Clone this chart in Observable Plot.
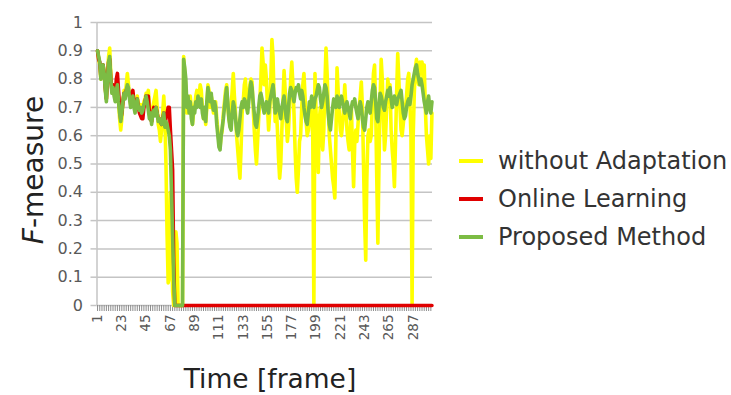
<!DOCTYPE html>
<html>
<head>
<meta charset="utf-8">
<script src="https://cdn.jsdelivr.net/npm/d3@7"></script>
<script src="https://cdn.jsdelivr.net/npm/@observablehq/plot@0.6"></script>
<style>
  html, body { margin: 0; padding: 0; background: #fff; }
  #chart { position: relative; width: 731px; height: 395px; overflow: hidden; font-family: "DejaVu Sans", sans-serif; }
  #chart svg { position: absolute; left: 0; top: 0; }
  .ytitle { position: absolute; left: 33px; top: 170px; transform: translate(-50%, -50%) rotate(-90deg); font-size: 28px; color: #222; white-space: nowrap; }
  .xtitle { position: absolute; left: 270px; top: 378px; transform: translate(-50%, -50%); font-size: 26.5px; color: #222; white-space: nowrap; }
  .legend { position: absolute; left: 459px; top: 142px; }
  .legend .row { display: flex; align-items: center; height: 38px; font-size: 24px; color: #333; white-space: nowrap; }
  .legend .swatch { width: 24px; height: 3.5px; margin-right: 15px; }
</style>
</head>
<body>
<div id="chart"></div>
<script>
// F-measure per frame for each method
const withoutAdaptation = [
  0.90, 0.87, 0.85, 0.80, 0.83, 0.85, 0.82, 0.77, 0.73, 0.82,
  0.88, 0.91, 0.82, 0.76, 0.78, 0.75, 0.73, 0.77, 0.79, 0.72,
  0.66, 0.62, 0.66, 0.72, 0.76, 0.74, 0.78, 0.82, 0.78, 0.74,
  0.71, 0.73, 0.75, 0.71, 0.69, 0.72, 0.74, 0.71, 0.70, 0.71,
  0.69, 0.70, 0.72, 0.73, 0.75, 0.74, 0.76, 0.70, 0.69, 0.65,
  0.70, 0.72, 0.74, 0.76, 0.70, 0.64, 0.62, 0.58, 0.62, 0.68,
  0.74, 0.66, 0.50, 0.25, 0.08, 0.10, 0.40, 0.30, 0.05, 0.00,
  0.00, 0.26, 0.22, 0.00, 0.00, 0.00, 0.00, 0.00, 0.88, 0.82,
  0.76, 0.68, 0.72, 0.70, 0.74, 0.70, 0.64, 0.68, 0.70, 0.74,
  0.76, 0.72, 0.74, 0.78, 0.76, 0.70, 0.66, 0.68, 0.64, 0.70,
  0.78, 0.76, 0.70, 0.74, 0.72, 0.68, 0.70, 0.72, 0.66, 0.62,
  0.58, 0.56, 0.60, 0.62, 0.68, 0.72, 0.76, 0.78, 0.70, 0.66,
  0.64, 0.70, 0.76, 0.82, 0.74, 0.68, 0.60, 0.55, 0.50, 0.45,
  0.55, 0.68, 0.72, 0.78, 0.80, 0.72, 0.70, 0.74, 0.78, 0.80,
  0.79, 0.70, 0.62, 0.55, 0.50, 0.58, 0.66, 0.72, 0.80, 0.91,
  0.86, 0.78, 0.85, 0.80, 0.70, 0.62, 0.68, 0.80, 0.94, 0.88,
  0.72, 0.65, 0.70, 0.62, 0.52, 0.45, 0.50, 0.62, 0.72, 0.83,
  0.76, 0.65, 0.58, 0.62, 0.70, 0.80, 0.86, 0.78, 0.68, 0.55,
  0.45, 0.40, 0.48, 0.58, 0.60, 0.70, 0.78, 0.82, 0.74, 0.65,
  0.60, 0.62, 0.70, 0.72, 0.66, 0.60, 0.00, 0.82, 0.68, 0.62,
  0.47, 0.66, 0.70, 0.60, 0.55, 0.62, 0.78, 0.91, 0.82, 0.70,
  0.60, 0.55, 0.50, 0.45, 0.42, 0.38, 0.60, 0.84, 0.76, 0.68,
  0.62, 0.60, 0.64, 0.70, 0.78, 0.70, 0.62, 0.58, 0.55, 0.62,
  0.70, 0.55, 0.42, 0.57, 0.62, 0.58, 0.64, 0.70, 0.74, 0.79,
  0.70, 0.50, 0.30, 0.16, 0.45, 0.60, 0.62, 0.58, 0.60, 0.72,
  0.82, 0.85, 0.70, 0.45, 0.22, 0.50, 0.72, 0.87, 0.80, 0.66,
  0.55, 0.60, 0.70, 0.80, 0.76, 0.78, 0.62, 0.55, 0.50, 0.42,
  0.58, 0.75, 0.89, 0.80, 0.70, 0.62, 0.60, 0.64, 0.68, 0.70,
  0.74, 0.80, 0.82, 0.72, 0.60, 0.00, 0.60, 0.75, 0.84, 0.87,
  0.80, 0.78, 0.86, 0.84, 0.86, 0.80, 0.85, 0.70, 0.60, 0.55,
  0.50, 0.60, 0.52, 0.68
];

const onlineLearning = [
  0.90, 0.87, 0.86, 0.81, 0.84, 0.85, 0.82, 0.77, 0.73, 0.80,
  0.86, 0.87, 0.80, 0.76, 0.78, 0.76, 0.74, 0.80, 0.82, 0.76,
  0.70, 0.66, 0.68, 0.72, 0.75, 0.74, 0.76, 0.77, 0.76, 0.74,
  0.72, 0.74, 0.76, 0.72, 0.69, 0.71, 0.73, 0.70, 0.68, 0.67,
  0.66, 0.66, 0.70, 0.72, 0.74, 0.73, 0.74, 0.68, 0.66, 0.65,
  0.68, 0.70, 0.68, 0.70, 0.68, 0.66, 0.66, 0.65, 0.64, 0.66,
  0.68, 0.64, 0.66, 0.68, 0.70, 0.70, 0.62, 0.55, 0.48, 0.15,
  0, 0, 0, 0, 0, 0, 0, 0, 0, 0,
  0, 0, 0, 0, 0, 0, 0, 0, 0, 0,
  0, 0, 0, 0, 0, 0, 0, 0, 0, 0,
  0, 0, 0, 0, 0, 0, 0, 0, 0, 0,
  0, 0, 0, 0, 0, 0, 0, 0, 0, 0,
  0, 0, 0, 0, 0, 0, 0, 0, 0, 0,
  0, 0, 0, 0, 0, 0, 0, 0, 0, 0,
  0, 0, 0, 0, 0, 0, 0, 0, 0, 0,
  0, 0, 0, 0, 0, 0, 0, 0, 0, 0,
  0, 0, 0, 0, 0, 0, 0, 0, 0, 0,
  0, 0, 0, 0, 0, 0, 0, 0, 0, 0,
  0, 0, 0, 0, 0, 0, 0, 0, 0, 0,
  0, 0, 0, 0, 0, 0, 0, 0, 0, 0,
  0, 0, 0, 0, 0, 0, 0, 0, 0, 0,
  0, 0, 0, 0, 0, 0, 0, 0, 0, 0,
  0, 0, 0, 0, 0, 0, 0, 0, 0, 0,
  0, 0, 0, 0, 0, 0, 0, 0, 0, 0,
  0, 0, 0, 0, 0, 0, 0, 0, 0, 0,
  0, 0, 0, 0, 0, 0, 0, 0, 0, 0,
  0, 0, 0, 0, 0, 0, 0, 0, 0, 0,
  0, 0, 0, 0, 0, 0, 0, 0, 0, 0,
  0, 0, 0, 0, 0, 0, 0, 0, 0, 0,
  0, 0, 0, 0, 0, 0, 0, 0, 0, 0,
  0, 0, 0, 0
];

const proposedMethod = [
  0.90, 0.88, 0.86, 0.80, 0.84, 0.85, 0.82, 0.76, 0.72, 0.80,
  0.86, 0.88, 0.80, 0.75, 0.77, 0.74, 0.72, 0.76, 0.78, 0.72,
  0.68, 0.65, 0.68, 0.72, 0.75, 0.73, 0.76, 0.78, 0.77, 0.73,
  0.70, 0.72, 0.74, 0.70, 0.68, 0.71, 0.73, 0.70, 0.69, 0.70,
  0.68, 0.69, 0.71, 0.72, 0.74, 0.72, 0.69, 0.66, 0.68, 0.64,
  0.68, 0.69, 0.67, 0.70, 0.68, 0.65, 0.66, 0.65, 0.64, 0.66,
  0.68, 0.63, 0.65, 0.64, 0.62, 0.60, 0.55, 0.40, 0.25, 0.10,
  0.00, 0.00, 0.00, 0.00, 0.00, 0.00, 0.00, 0.00, 0.87, 0.84,
  0.80, 0.70, 0.74, 0.68, 0.72, 0.66, 0.64, 0.70, 0.68, 0.72,
  0.70, 0.74, 0.71, 0.70, 0.73, 0.68, 0.66, 0.70, 0.65, 0.72,
  0.77, 0.74, 0.72, 0.75, 0.71, 0.69, 0.72, 0.70, 0.64, 0.60,
  0.56, 0.55, 0.60, 0.63, 0.66, 0.70, 0.74, 0.77, 0.72, 0.66,
  0.63, 0.62, 0.68, 0.72, 0.70, 0.66, 0.62, 0.60, 0.62, 0.66,
  0.70, 0.72, 0.70, 0.73, 0.72, 0.70, 0.68, 0.72, 0.76, 0.79,
  0.77, 0.72, 0.68, 0.64, 0.63, 0.66, 0.70, 0.74, 0.75, 0.73,
  0.70, 0.68, 0.70, 0.72, 0.70, 0.68, 0.72, 0.74, 0.76, 0.78,
  0.74, 0.68, 0.70, 0.73, 0.70, 0.68, 0.66, 0.70, 0.72, 0.74,
  0.70, 0.66, 0.65, 0.70, 0.75, 0.77, 0.76, 0.74, 0.72, 0.75,
  0.77, 0.76, 0.78, 0.75, 0.73, 0.76, 0.74, 0.70, 0.67, 0.65,
  0.64, 0.68, 0.72, 0.70, 0.74, 0.72, 0.70, 0.73, 0.74, 0.76,
  0.78, 0.77, 0.73, 0.70, 0.72, 0.75, 0.78, 0.77, 0.74, 0.68,
  0.64, 0.62, 0.66, 0.70, 0.73, 0.71, 0.70, 0.74, 0.72, 0.70,
  0.73, 0.74, 0.72, 0.70, 0.68, 0.70, 0.72, 0.70, 0.68, 0.66,
  0.70, 0.72, 0.71, 0.73, 0.70, 0.68, 0.66, 0.70, 0.72, 0.70,
  0.66, 0.63, 0.62, 0.66, 0.70, 0.72, 0.70, 0.68, 0.72, 0.76,
  0.78, 0.77, 0.72, 0.66, 0.65, 0.70, 0.75, 0.74, 0.72, 0.70,
  0.69, 0.72, 0.74, 0.76, 0.74, 0.77, 0.73, 0.70, 0.72, 0.74,
  0.72, 0.71, 0.73, 0.74, 0.75, 0.76, 0.72, 0.68, 0.66, 0.67,
  0.70, 0.72, 0.73, 0.71, 0.74, 0.78, 0.80, 0.82, 0.84, 0.85,
  0.82, 0.80, 0.78, 0.80, 0.78, 0.75, 0.72, 0.70, 0.68, 0.72,
  0.74, 0.70, 0.68, 0.72
];

// Axis ticks
const xTickLabels = [1, 23, 45, 67, 89, 111, 133, 155, 177, 199, 221, 243, 265, 287];
const yTicks = [0, 0.1, 0.2, 0.3, 0.4, 0.5, 0.6, 0.7, 0.8, 0.9, 1];

const series = [
  {name: "without Adaptation", values: withoutAdaptation, color: "#ffff00"},
  {name: "Online Learning", values: onlineLearning, color: "#e00000"},
  {name: "Proposed Method", values: proposedMethod, color: "#7cbc44"}
];

const frames = d3.range(1, proposedMethod.length + 1);
const minorTicks = frames.filter(f => f % 2 === 1);
const gridColor = "#c4c4c4";

const plot = Plot.plot({
  width: 460,
  height: 395,
  marginLeft: 96.5,
  marginRight: 28,
  marginTop: 22,
  marginBottom: 90,
  style: {fontFamily: "DejaVu Sans", background: "transparent"},
  x: {type: "linear", domain: [0.5, frames.length + 0.5]},
  y: {domain: [0, 1]},
  marks: [
    Plot.gridY(yTicks, {stroke: gridColor, strokeOpacity: 1, strokeWidth: 1.5}),
    Plot.ruleX([0.5], {stroke: gridColor, strokeWidth: 1.5}),
    // small tick marks along the frame axis
    Plot.axisX({ticks: minorTicks, tickSize: 6, tickFormat: () => "", stroke: "#8c8c8c", label: null}),
    Plot.axisX({
      ticks: xTickLabels, tickSize: 0, tickRotate: -90, textAnchor: "end", lineAnchor: "middle",
      tickPadding: 9, fontSize: 13.5, fill: "#595959", label: null
    }),
    Plot.axisY({
      ticks: yTicks, tickSize: 6, tickPadding: 8, fontSize: 16, fill: "#595959",
      stroke: gridColor, strokeWidth: 1.5, label: null, tickFormat: d => String(d)
    }),
    ...series.map(s => Plot.line(s.values, {
      x: (d, i) => frames[i],
      y: d => d,
      stroke: s.color,
      strokeWidth: 3.6,
      strokeLinejoin: "round"
    }))
  ]
});

const root = document.getElementById("chart");
root.appendChild(plot);

const ytitle = document.createElement("div");
ytitle.className = "ytitle";
ytitle.innerHTML = "<i>F</i>-measure";
root.appendChild(ytitle);

const xtitle = document.createElement("div");
xtitle.className = "xtitle";
xtitle.textContent = "Time [frame]";
root.appendChild(xtitle);

const legend = document.createElement("div");
legend.className = "legend";
for (const s of series) {
  const row = document.createElement("div");
  row.className = "row";
  const sw = document.createElement("span");
  sw.className = "swatch";
  sw.style.background = s.color;
  const label = document.createElement("span");
  label.textContent = s.name;
  row.appendChild(sw);
  row.appendChild(label);
  legend.appendChild(row);
}
root.appendChild(legend);
</script>
</body>
</html>
